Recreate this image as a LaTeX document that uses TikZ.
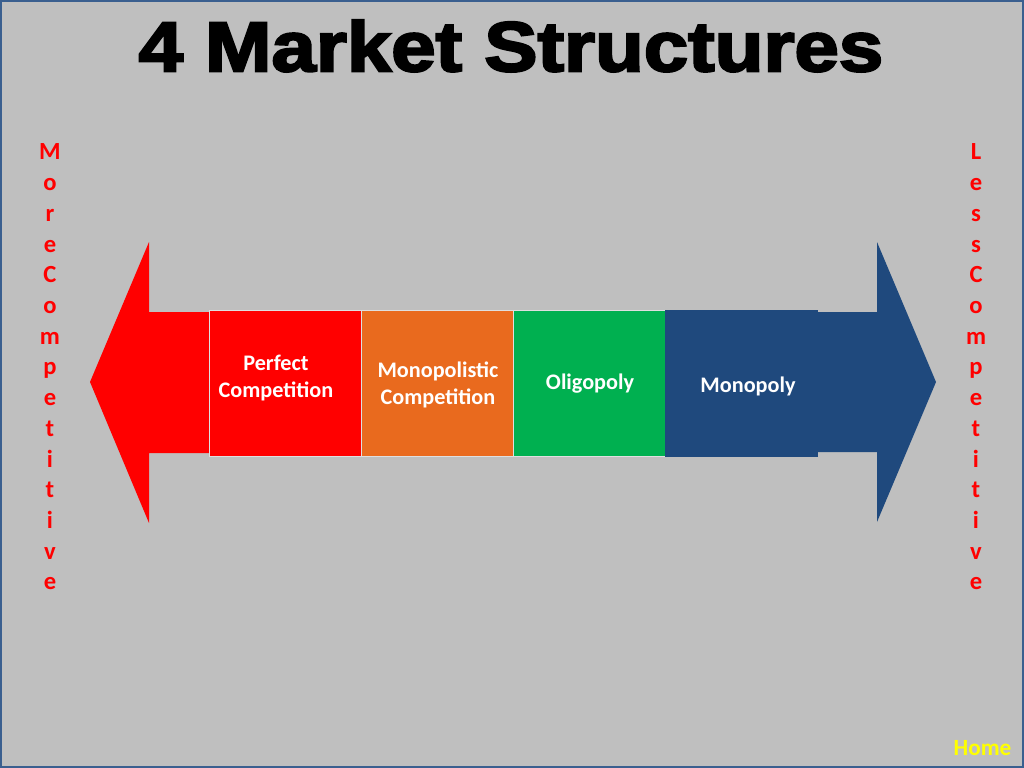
\documentclass[tikz,border=0pt]{standalone}
\usepackage{fontspec}
\setmainfont{Carlito}
\newfontfamily\titlefont{Liberation Sans Bold}[FakeBold=3]
\usepackage{graphicx}

\definecolor{slidegray}{HTML}{BFBFBF}
\definecolor{frameblue}{HTML}{3A5F8F}
\definecolor{pcred}{HTML}{FF0000}
\definecolor{mcorange}{HTML}{E96A1E}
\definecolor{olgreen}{HTML}{00B050}
\definecolor{mpblue}{HTML}{1F497D}
\definecolor{homeyellow}{HTML}{FFFF00}

\tikzset{
  marketbox/.style={draw=white!75!gray, line width=0.4pt, minimum width=3.8cm, minimum height=3.65cm, inner sep=0pt},
  marketlabel/.style={text=white, font=\fontsize{15.8}{19}\selectfont\bfseries, align=center, inner sep=0pt},
  sideletter/.style={text=pcred, font=\fontsize{17.5}{20}\selectfont\bfseries, inner sep=0pt}
}

\begin{document}
\begin{tikzpicture}[x=0.025cm, y=-0.025cm]
        \useasboundingbox (0,0) rectangle (1024,768);
        \fill[slidegray] (0,0) rectangle (1024,768); % fundo
        \draw[frameblue, line width=1.4pt] (1,1) rectangle (1023,767); % moldura

        % titulo
        \node (title) at (511,46) {\resizebox{18.6cm}{1.28cm}{\titlefont 4 Market Structures}};

        % setas
        \fill[pcred] (90,382) -- (149,242) -- (149,312) -- (212,312) -- (212,453) -- (149,453) -- (149,523) -- cycle; % seta esquerda
        \fill[mpblue] (936,382) -- (877,242) -- (877,312) -- (815,312) -- (815,452) -- (877,452) -- (877,522) -- cycle; % seta direita

        % caixas
        \node[marketbox, fill=pcred] (perfect) at (285.5,383) {};
        \node[marketbox, fill=mcorange] (monocomp) at (437.5,383) {};
        \node[marketbox, fill=olgreen] (oligo) at (589.5,383) {};
        \node[marketbox, fill=mpblue, draw=mpblue] (mono) at (741.5,383) {};

        \node[marketlabel] (perfecttxt) at (276,378) {Perfect\\Competition};
        \node[marketlabel] (monocomptxt) at (438,385) {Monopolistic\\Competition};
        \node[marketlabel] (oligotxt) at (590,384) {Oligopoly};
        \node[marketlabel] (monotxt) at (748,386) {Monopoly};

        % letras laterais
        \foreach \ch [count=\i from 0] in {M,o,r,e,C,o,m,p,e,t,i,t,i,v,e}
          \node[sideletter, anchor=base] (more\i) at (50,160+30.7*\i) {\ch};
        \foreach \ch [count=\i from 0] in {L,e,s,s,C,o,m,p,e,t,i,t,i,v,e}
          \node[sideletter, anchor=base] (less\i) at (976,160+30.7*\i) {\ch};

        \node[text=homeyellow, font=\fontsize{16.5}{19}\selectfont\bfseries, anchor=base] (home) at (982.5,755) {Home};
    \end{tikzpicture}
\end{document}
